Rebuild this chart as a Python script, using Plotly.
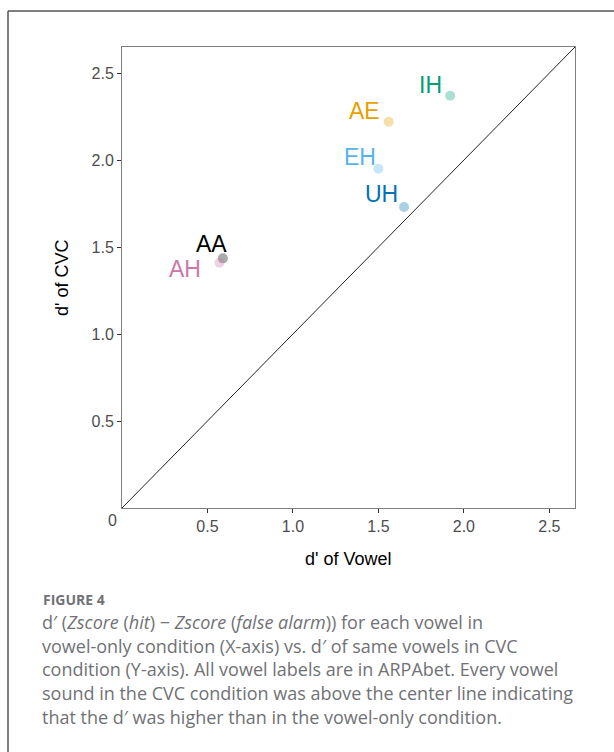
import plotly.graph_objects as go

# ---- data ----
vowels = ["IH", "AE", "EH", "UH", "AA", "AH"]
dprime_vowel = [1.92, 1.56, 1.50, 1.65, 0.59, 0.57]
dprime_cvc = [2.37, 2.22, 1.95, 1.73, 1.435, 1.41]
x_ticks = [0.5, 1.0, 1.5, 2.0, 2.5]
x_ticklabels = ["0.5", "1.0", "1.5", "2.0", "2.5"]
y_ticks = [0.5, 1.0, 1.5, 2.0, 2.5]
y_ticklabels = ["0.5", "1.0", "1.5", "2.0", "2.5"]

# ---- style ----
text_colors = ["#009E73", "#E69F00", "#56B4E9", "#0072B2", "#000000", "#CC79A7"]
label_shift_x = [-20, -24, -18, -23, -11, -34]
label_shift_y = [11, 11, 12, 13, 14, -6]
axis_max = 2.65

fig = go.Figure()

# identity line
fig.add_trace(go.Scatter(x=[0, 3], y=[0, 3], mode="lines",
                         line=dict(color="#222222", width=1), hoverinfo="skip",
                         showlegend=False))

fig.add_trace(go.Scatter(x=dprime_vowel, y=dprime_cvc, mode="markers",
                         marker=dict(size=10, color=text_colors, opacity=0.33,
                                     line=dict(width=0)),
                         text=vowels, showlegend=False))

for v, xv, yv, c, sx, sy in zip(vowels, dprime_vowel, dprime_cvc, text_colors,
                                label_shift_x, label_shift_y):
    fig.add_annotation(x=xv, y=yv, text=v, showarrow=False, xanchor="center",
                       yanchor="middle", xshift=sx, yshift=sy,
                       font=dict(family="Liberation Sans, Arial", size=23, color=c))

W, H = 614, 752
L, R, T, B = 122, 575, 47, 508
pw, ph = R - L, B - T

def px(xp):
    return (xp - L) / pw

def py(yp):
    return (B - yp) / ph

tick_font = dict(family="Liberation Sans, Arial", size=16, color="#4D4D4D")

fig.update_layout(
    width=W, height=H,
    margin=dict(l=L, r=W - R, t=T, b=H - B),
    paper_bgcolor="white", plot_bgcolor="white",
    xaxis=dict(range=[0, axis_max], tickvals=x_ticks, ticktext=x_ticklabels,
               showgrid=False, zeroline=False, ticks="outside", ticklen=4,
               tickcolor="#333333", tickwidth=1, tickfont=tick_font,
               showline=True, linecolor="#7F7F7F", linewidth=1, mirror=True),
    yaxis=dict(range=[0, axis_max], tickvals=y_ticks, ticktext=y_ticklabels,
               showgrid=False, zeroline=False, ticks="outside", ticklen=4,
               tickcolor="#333333", tickwidth=1, tickfont=tick_font,
               showline=True, linecolor="#7F7F7F", linewidth=1, mirror=True),
)

# corner "0" label
fig.add_annotation(xref="paper", yref="paper", x=px(112), y=py(520), text="0",
                   showarrow=False, xanchor="center", yanchor="middle", font=tick_font)

# axis titles
fig.add_annotation(xref="paper", yref="paper", x=px(348), y=py(559), text="d' of Vowel",
                   showarrow=False, xanchor="center", yanchor="middle",
                   font=dict(family="Liberation Sans, Arial", size=18, color="#000000"))
fig.add_annotation(xref="paper", yref="paper", x=px(62), y=py(278), text="d' of CVC",
                   showarrow=False, xanchor="center", yanchor="middle", textangle=-90,
                   font=dict(family="Liberation Sans, Arial", size=18, color="#000000"))

# outer figure frame
fig.add_shape(type="line", xref="paper", yref="paper", x0=px(8), x1=px(8),
              y0=py(11), y1=py(760), line=dict(color="#555555", width=1.5))
fig.add_shape(type="line", xref="paper", yref="paper", x0=px(8), x1=px(620),
              y0=py(11), y1=py(11), line=dict(color="#555555", width=1.5))

# caption
cap_font = "Open Sans, Lato, sans-serif"
fig.add_annotation(xref="paper", yref="paper", x=px(41), y=py(599), text="<b>FIGURE 4</b>",
                   showarrow=False, xanchor="left", yanchor="middle",
                   font=dict(family=cap_font, size=14, color="#707275"))
caption_lines = [
    "d′ (<i>Zscore</i> (<i>hit</i>) − <i>Zscore</i> (<i>false alarm</i>)) for each vowel in",
    "vowel-only condition (X-axis) vs. d′ of same vowels in CVC",
    "condition (Y-axis). All vowel labels are in ARPAbet. Every vowel",
    "sound in the CVC condition was above the center line indicating",
    "that the d′ was higher than in the vowel-only condition.",
]
for i, line in enumerate(caption_lines):
    fig.add_annotation(xref="paper", yref="paper", x=px(40), y=py(622 + 23.7 * i),
                       text=line, showarrow=False, xanchor="left", yanchor="middle",
                       font=dict(family=cap_font, size=18, color="#707275"))

fig.write_html("out.html", config={"displayModeBar": False},
               post_script="document.body.style.margin='0';document.body.style.overflow='hidden';")
